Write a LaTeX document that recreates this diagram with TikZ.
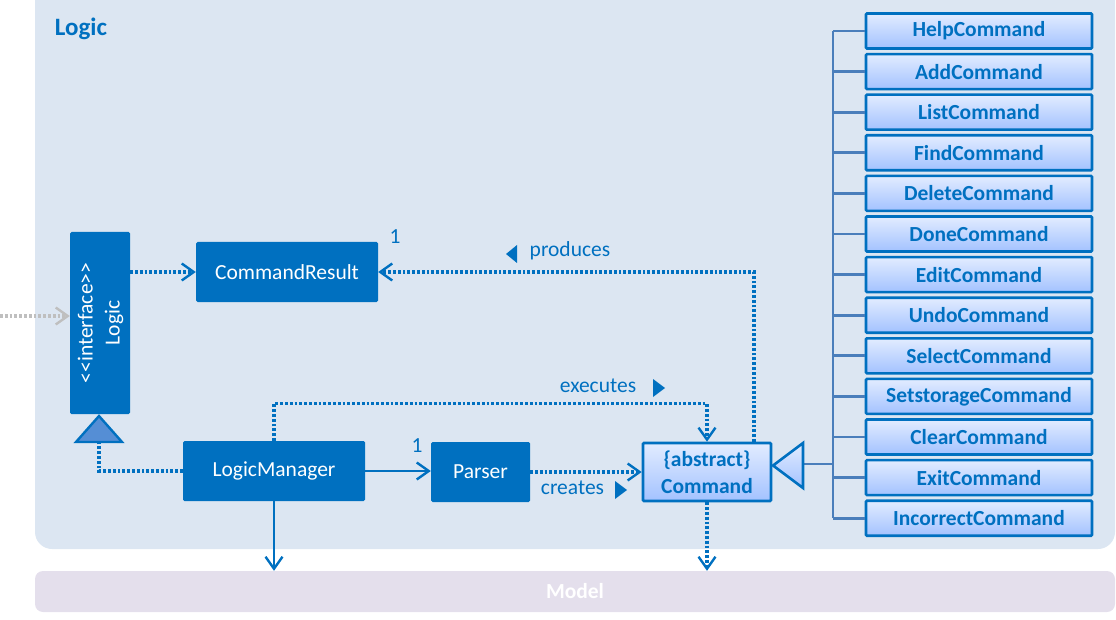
\documentclass[tikz,border=0pt]{standalone}
\usepackage{fontspec}
\setmainfont{Carlito}
\usetikzlibrary{arrows.meta}
\definecolor{ublue}{HTML}{0070C0}
\definecolor{pkgbg}{HTML}{DCE6F2}
\definecolor{modelbg}{HTML}{E4DFEC}
\definecolor{busc}{HTML}{4A7EBB}
\definecolor{gtop}{HTML}{E2ECFF}
\definecolor{gbot}{HTML}{A3C2FF}
\definecolor{trifill}{HTML}{558ED5}
\definecolor{grayarr}{HTML}{BFBFBF}
\begin{document}
\begin{tikzpicture}[x=1pt,y=-1pt,
  font=\fontsize{21.5}{27}\selectfont,
  cls/.style={fill=ublue, text=white, rounded corners=1.5pt, inner sep=0pt},
  sub/.style={draw=ublue, line width=2.6pt, top color=gtop, bottom color=gbot, text=ublue,
    font=\fontsize{21.5}{27}\selectfont\bfseries, minimum width=226pt, minimum height=35pt,
    inner sep=0pt, rounded corners=1pt},
  dep/.style={draw=ublue, line width=3.1pt, dash pattern=on 2.8pt off 2pt},
  solidln/.style={draw=ublue, line width=2.6pt},
  tip/.style={-{Straight Barb[length=12pt,width=17pt,line width=2.4pt]}},
  bus/.style={draw=busc, line width=2.8pt},
  lbl/.style={text=ublue, inner sep=0pt}
]
\useasboundingbox (0,0) rectangle (1116,620);
% packages
\fill[pkgbg, rounded corners=17pt] (35,-20) rectangle (1115,549);
\node[fill=modelbg, rounded corners=8pt, minimum width=1080pt, minimum height=41pt, inner sep=0pt,
  text=white, font=\fontsize{21.5}{27}\selectfont\bfseries] (model) at (575,591.5) {Model};
\node[text=ublue, font=\fontsize{25}{30}\selectfont\bfseries, inner sep=0pt] (title) at (81,29) {Logic};

% classes
\node[cls, minimum width=60pt, minimum height=182pt] (logic) at (100,323) {};
\node[rotate=90, text=white, align=center, inner sep=0pt] (logictxt) at (100.5,323)
  {<\kern0pt<interface>\kern0pt>\\Logic};
\node[cls, minimum width=182pt, minimum height=60pt] (cr) at (287,272) {CommandResult};
\node[cls, minimum width=182pt, minimum height=60pt] (lm) at (274,471) {LogicManager};
\node[cls, minimum width=99pt, minimum height=60pt] (parser) at (480.5,472) {Parser};
\node[sub, minimum width=128pt, minimum height=58pt, align=center] (cmd) at (707,472) {\{abstract\}\\Command};

% subclasses
\coordinate (busx) at (833,0);
\foreach \n [count=\i from 0] in {Help,Add,List,Find,Delete,Done,Edit,Undo,Select,Setstorage,Clear,Exit,Incorrect}{
  \node[sub] (s\i) at (979,{31+40.6*\i}) {\n Command};
  \draw[bus] (s\i.west -| busx) -- (s\i.west);
}
\draw[bus] (s0.west -| busx) -- (s12.west -| busx);

% generalization to Command
\coordinate (gapex) at (773,465.5);
\coordinate (gbase) at (803,464);
\draw[bus] (gbase) -- (gbase -| busx);
\draw[draw=ublue, line width=2.6pt, line join=miter, top color=gtop, bottom color=gbot]
  (gapex) -- (803,443) -- (803,488) -- cycle;

% generalization to Logic
\coordinate (tribase) at (99,442);
\draw[dep] (lm.west) -| (tribase);
\draw[draw=ublue, line width=2.4pt, fill=trifill, line join=miter]
  (99,416) -- (122,442) -- (76,442) -- cycle;

% external
\coordinate (ext) at (0,316);
\draw[dep, draw=grayarr, tip] (ext) -- (ext -| logic.west);

% dependencies
\draw[dep, tip] (logic.east |- cr.west) -- (cr.west);
\draw[solidln, tip] (lm.east) -- (lm.east -| parser.west);
\draw[dep, tip] (parser.east) -- (parser.east -| cmd.west);
\draw[dep, tip] (lm.north) -- ++(0,-37) -| (cmd.north);
\draw[dep, tip] ([xshift=47pt]cmd.north) |- (cr.east);
\draw[solidln, tip] (lm.south) -- (lm.south |- model.north);
\draw[dep, tip] (cmd.south) -- (cmd.south |- model.north);

% labels
\node[lbl] (m1) at (395,237) {1};
\node[lbl] (m2) at (417,446) {1};
\node[lbl] (prod) at (570,251) {produces};
\fill[ublue] (506,254) -- (517,245) -- (517,263) -- cycle;
\node[lbl] (exec) at (598,386) {executes};
\fill[ublue] (653,379) -- (653,397) -- (665,388) -- cycle;
\node[lbl] (creat) at (572.5,488) {creates};
\fill[ublue] (615,481) -- (615,499) -- (627,490) -- cycle;
\end{tikzpicture}
\end{document}
